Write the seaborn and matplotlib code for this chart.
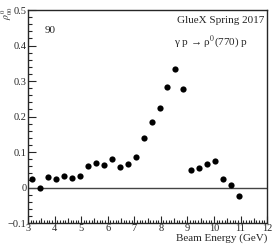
import matplotlib
matplotlib.use("Agg")
import matplotlib.pyplot as plt
import numpy as np
import pandas as pd
import seaborn as sns
from matplotlib.ticker import MultipleLocator

beam_energy = [3.15, 3.45, 3.75, 4.05, 4.35, 4.65, 4.95, 5.25, 5.55, 5.85,
               6.15, 6.45, 6.75, 7.05, 7.35, 7.65, 7.95, 8.25, 8.55, 8.85,
               9.15, 9.45, 9.75, 10.05, 10.35, 10.65, 10.95]
sdme = [0.025, 0.000, 0.030, 0.025, 0.033, 0.027, 0.032, 0.060, 0.070, 0.063,
        0.079, 0.058, 0.066, 0.085, 0.140, 0.185, 0.224, 0.284, 0.334, 0.277,
        0.048, 0.054, 0.067, 0.074, 0.023, 0.006, -0.024]

df = pd.DataFrame({"E": beam_energy, "val": sdme})

sns.set_style("ticks")
plt.rcParams["font.family"] = ["Liberation Serif", "DejaVu Serif"]
plt.rcParams["mathtext.fontset"] = "stix"

fig = plt.figure(figsize=(2.72, 2.44), dpi=100)
ax = fig.add_axes([0.103, 0.086, 0.879, 0.873])

ax.axhline(0, color="#444444", lw=1.0, zorder=1)
sns.scatterplot(data=df, x="E", y="val", ax=ax, color="black", s=20,
                edgecolor="black", linewidth=0, zorder=3, legend=False)

ax.set_xlim(3, 12)
ax.set_ylim(-0.1, 0.5)
ax.xaxis.set_major_locator(MultipleLocator(1))
ax.xaxis.set_minor_locator(MultipleLocator(0.1))
ax.yaxis.set_major_locator(MultipleLocator(0.1))
ax.yaxis.set_minor_locator(MultipleLocator(0.02))
ax.yaxis.set_major_formatter(plt.FuncFormatter(
    lambda v, p: "0" if abs(v) < 1e-9 else ("\u22120.1" if v < 0 else f"{v:g}")))
ax.tick_params(which="both", direction="in", labelsize=7.5, pad=1,
               top=False, right=False, width=0.8)
ax.tick_params(axis="x", which="major", length=5)
ax.tick_params(axis="x", which="minor", length=2)
ax.tick_params(axis="y", which="major", length=6)
ax.tick_params(axis="y", which="minor", length=3)
for s in ax.spines.values():
    s.set_linewidth(1.0)

# medium ticks at the half-GeV positions
half = ax.secondary_xaxis("bottom")
half.set_xticks(np.arange(3.5, 12, 1.0))
half.tick_params(direction="in", length=3.5, width=0.8, labelbottom=False)
half.spines["bottom"].set_visible(False)

ax.set_xlabel("Beam Energy (GeV)", fontsize=8, loc="right", labelpad=0)
ax.set_ylabel(r"$\rho^{0}_{00}$", fontsize=7, loc="top", labelpad=0)
ax.yaxis.set_label_coords(-0.055, 1.02)

ax.text(0.07, 0.89, "90", transform=ax.transAxes, fontsize=8)
ax.text(0.99, 0.97, "GlueX Spring 2017", transform=ax.transAxes,
        fontsize=8, ha="right", va="top")
ax.text(0.92, 0.85, "\u03b3 p \u2192 \u03c1$^{0}$(770) p",
        transform=ax.transAxes, fontsize=8, ha="right", va="center")

fig.savefig("out.png", dpi=100)
